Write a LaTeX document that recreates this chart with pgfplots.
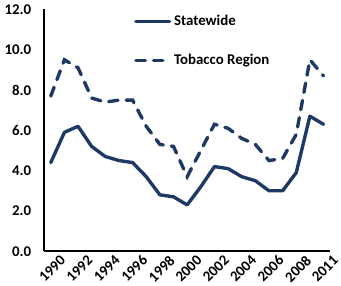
\documentclass[border=0pt]{standalone}
\usepackage{pgfplots}
\pgfplotsset{compat=1.18}
\usepackage{fontspec}
\setmainfont{Carlito}
\definecolor{navy}{HTML}{1F3864}
\begin{document}
\begin{tikzpicture}[x=1pt,y=1pt]
\begin{axis}[
  scale only axis,
  width=212pt, height=179pt,
  xmin=-0.5, xmax=20.5,
  ymin=0, ymax=12,
  axis x line*=bottom, axis y line*=left,
  axis line style={black, line width=1.5pt},
  xtick={0,2,...,20},
  xticklabels={1990,1992,1994,1996,1998,2000,2002,2004,2006,2008,2011},
  ytick={0,2,...,12},
  major tick length=0pt,
  y tick label style={/pgf/number format/fixed, /pgf/number format/fixed zerofill, /pgf/number format/precision=1},
  /pgf/number format/assume math mode=true,
  ticklabel style={font=\bfseries\fontsize{11}{12}\selectfont},
  xticklabel style={rotate=45, anchor=north east, inner sep=1pt, xshift=4pt, yshift=-5pt},
  yticklabel style={xshift=-6pt},
  legend style={draw=none, fill=none, at={(0.30,1.0)}, anchor=north west,
    font=\bfseries\fontsize{11}{12}\selectfont, row sep=16pt,
    legend cell align=left},
  legend image code/.code={\draw[#1] (0pt,0pt) -- (25pt,0pt);},
  clip=false,
]
\addplot[navy, line width=2.5pt, line join=round, line cap=round] coordinates {
(0,4.4) (1,5.9) (2,6.2) (3,5.2) (4,4.7) (5,4.5) (6,4.4) (7,3.7) (8,2.8) (9,2.7)
(10,2.3) (11,3.2) (12,4.2) (13,4.1) (14,3.7) (15,3.5) (16,3.0) (17,3.0) (18,3.9)
(19,6.7) (20,6.3)};
\addlegendentry{Statewide}
\addplot[navy, line width=2.5pt, line cap=round, dash pattern=on 7pt off 6pt] coordinates {
(0,7.7) (1,9.5) (2,9.1) (3,7.6) (4,7.4) (5,7.5) (6,7.5) (7,6.2) (8,5.3) (9,5.2)
(10,3.7) (11,5.0) (12,6.3) (13,6.1) (14,5.6) (15,5.3) (16,4.5) (17,4.6) (18,5.8)
(19,9.5) (20,8.7)};
\addlegendentry{Tobacco Region}
\end{axis}
\end{tikzpicture}
\end{document}
